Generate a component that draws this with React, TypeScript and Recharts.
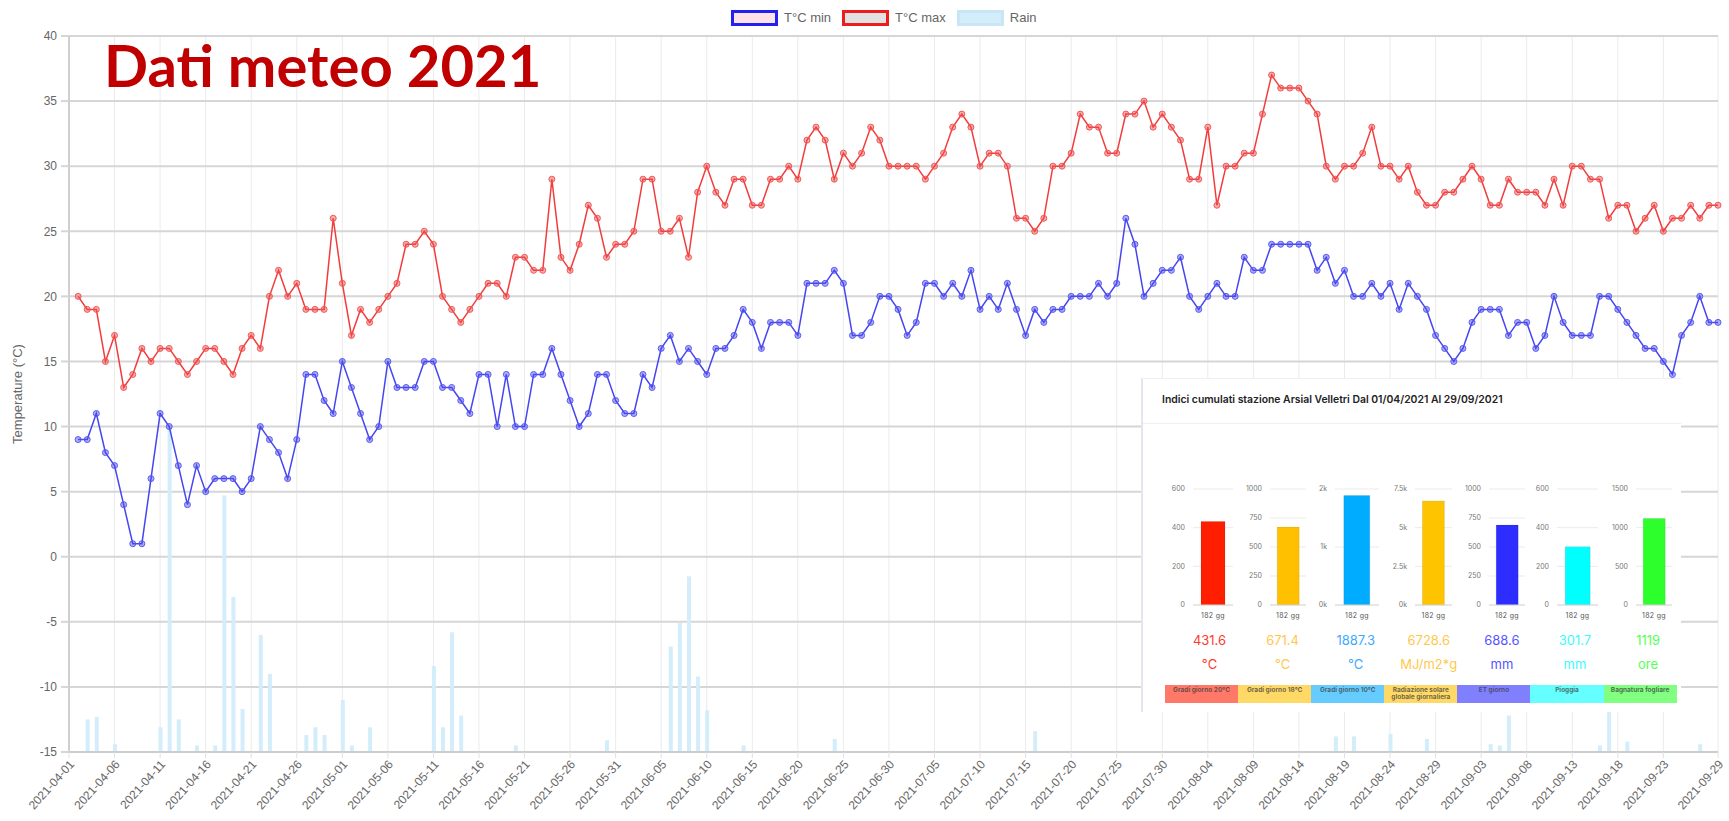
import { ComposedChart, BarChart, Bar, Line, XAxis, YAxis, CartesianGrid } from 'recharts'

// asse x: etichette ogni 5 giorni, ultima forzata al 29/09
const START = '2021-04-01'
const tickLabels = [
  '2021-04-01', '2021-04-06', '2021-04-11', '2021-04-16', '2021-04-21', '2021-04-26',
  '2021-05-01', '2021-05-06', '2021-05-11', '2021-05-16', '2021-05-21', '2021-05-26', '2021-05-31',
  '2021-06-05', '2021-06-10', '2021-06-15', '2021-06-20', '2021-06-25', '2021-06-30',
  '2021-07-05', '2021-07-10', '2021-07-15', '2021-07-20', '2021-07-25', '2021-07-30',
  '2021-08-04', '2021-08-09', '2021-08-14', '2021-08-19', '2021-08-24', '2021-08-29',
  '2021-09-03', '2021-09-08', '2021-09-13', '2021-09-18', '2021-09-23', '2021-09-29',
]
const tempTicks = [-15, -10, -5, 0, 5, 10, 15, 20, 25, 30, 35, 40]

// valori giornalieri dal 02/04 al 29/09
const tmax = [
  20, 19, 19, 15, 17, 13, 14, 16, 15, 16,
  16, 15, 14, 15, 16, 16, 15, 14, 16, 17,
  16, 20, 22, 20, 21, 19, 19, 19, 26, 21,
  17, 19, 18, 19, 20, 21, 24, 24, 25, 24,
  20, 19, 18, 19, 20, 21, 21, 20, 23, 23,
  22, 22, 29, 23, 22, 24, 27, 26, 23, 24,
  24, 25, 29, 29, 25, 25, 26, 23, 28, 30,
  28, 27, 29, 29, 27, 27, 29, 29, 30, 29,
  32, 33, 32, 29, 31, 30, 31, 33, 32, 30,
  30, 30, 30, 29, 30, 31, 33, 34, 33, 30,
  31, 31, 30, 26, 26, 25, 26, 30, 30, 31,
  34, 33, 33, 31, 31, 34, 34, 35, 33, 34,
  33, 32, 29, 29, 33, 27, 30, 30, 31, 31,
  34, 37, 36, 36, 36, 35, 34, 30, 29, 30,
  30, 31, 33, 30, 30, 29, 30, 28, 27, 27,
  28, 28, 29, 30, 29, 27, 27, 29, 28, 28,
  28, 27, 29, 27, 30, 30, 29, 29, 26, 27,
  27, 25, 26, 27, 25, 26, 26, 27, 26, 27, 27,
]
const tmin = [
  9, 9, 11, 8, 7, 4, 1, 1, 6, 11,
  10, 7, 4, 7, 5, 6, 6, 6, 5, 6,
  10, 9, 8, 6, 9, 14, 14, 12, 11, 15,
  13, 11, 9, 10, 15, 13, 13, 13, 15, 15,
  13, 13, 12, 11, 14, 14, 10, 14, 10, 10,
  14, 14, 16, 14, 12, 10, 11, 14, 14, 12,
  11, 11, 14, 13, 16, 17, 15, 16, 15, 14,
  16, 16, 17, 19, 18, 16, 18, 18, 18, 17,
  21, 21, 21, 22, 21, 17, 17, 18, 20, 20,
  19, 17, 18, 21, 21, 20, 21, 20, 22, 19,
  20, 19, 21, 19, 17, 19, 18, 19, 19, 20,
  20, 20, 21, 20, 21, 26, 24, 20, 21, 22,
  22, 23, 20, 19, 20, 21, 20, 20, 23, 22,
  22, 24, 24, 24, 24, 24, 22, 23, 21, 22,
  20, 20, 21, 20, 21, 19, 21, 20, 19, 17,
  16, 15, 16, 18, 19, 19, 19, 17, 18, 18,
  16, 17, 20, 18, 17, 17, 17, 20, 20, 19,
  18, 17, 16, 16, 15, 14, 17, 18, 20, 18, 18,
]
const rain = [
  0, 2.5, 2.7, 0, 0.6, 0, 0, 0, 0, 1.9,
  25, 2.5, 0, 0.5, 0, 0.5, 19.7, 11.9, 3.3, 0,
  9, 6, 0, 0, 0, 1.3, 1.9, 1.3, 0, 4,
  0.5, 0, 1.9, 0, 0, 0, 0, 0, 0, 6.6,
  1.9, 9.2, 2.8, 0, 0, 0, 0, 0, 0.5, 0,
  0, 0, 0, 0, 0, 0, 0, 0, 0.9, 0,
  0, 0, 0, 0, 0, 8.1, 9.9, 13.5, 5.8, 3.2,
  0, 0, 0, 0.5, 0, 0, 0, 0, 0, 0,
  0, 0, 0, 1, 0, 0, 0, 0, 0, 0,
  0, 0, 0, 0, 0, 0, 0, 0, 0, 0,
  0, 0, 0, 0, 0, 1.6, 0, 0, 0, 0,
  0, 0, 0, 0, 0, 0, 0, 0, 0, 0,
  0, 0, 0, 0, 0, 0, 0, 0, 0, 0,
  0, 0, 0, 0, 0, 0, 0, 0, 1.2, 0,
  1.2, 0, 0, 0, 1.4, 0, 0, 0, 1, 0,
  0, 0, 0, 0, 0, 0.6, 0.5, 2.8, 0, 0,
  0, 0, 0, 0, 0, 0, 0, 0.5, 5, 0,
  0.8, 0, 0, 0, 0, 0, 0, 0, 0.6, 0, 0,
]

// indici cumulati (riquadro)
const statNames = ['Gradi giorno 20°C', 'Gradi giorno 18°C', 'Gradi giorno 10°C', 'Radiazione solare globale giornaliera', 'ET giorno', 'Pioggia', 'Bagnatura fogliare']
const statValues = [431.6, 671.4, 1887.3, 6728.6, 688.6, 301.7, 1119]
const statUnits = ['°C', '°C', '°C', 'MJ/m2*g', 'mm', 'mm', 'ore']
const statMax = [600, 1000, 2000, 7500, 1000, 600, 1500]
const statTicks = [
  [0, 200, 400, 600],
  [0, 250, 500, 750, 1000],
  [0, 1000, 2000],
  [0, 2500, 5000, 7500],
  [0, 250, 500, 750, 1000],
  [0, 200, 400, 600],
  [0, 500, 1000, 1500],
]
const statPeriod = '182 gg'

const barColors = ['#ff1e00', '#ffc000', '#00acff', '#ffc400', '#2d2dff', '#00ffff', '#2dff2d']
const textColors = ['#ff3a2a', '#ffc84d', '#3fa9ff', '#ffc84d', '#5555ff', '#3cfbff', '#55ff55']
const cellColors = ['#ff7868', '#ffd966', '#66ccff', '#ffd966', '#8080ff', '#66ffff', '#80ff80']
const axisWidths = [28, 32, 24, 31, 32, 27, 32]

const data = tmax.map((v, i) => ({ day: i + 1, tmax: v, tmin: tmin[i], rain: rain[i] }))
const dayOf = (s: string) => (Date.parse(s) - Date.parse(START)) / 86400000
const tickDays = tickLabels.map(dayOf)
const labelByDay: Record<number, string> = {}
tickLabels.forEach((s) => { labelByDay[dayOf(s)] = s })

const fmtK = (v: number) => (v === 0 ? '0k' : `${v / 1000}k`)

function DateTick(props: any) {
  const { x, y, payload } = props
  return (
    <text
      x={x + 3}
      y={y + 2}
      transform={`rotate(-48 ${x + 3} ${y + 2})`}
      textAnchor="end"
      dominantBaseline="central"
      fill="#666"
      fontSize={12}
      fontFamily='"Liberation Sans", Arial, sans-serif'
    >
      {labelByDay[payload.value]}
    </text>
  )
}

function PeriodTick(props: any) {
  const { x, y, payload } = props
  return (
    <text x={x} y={y + 5} textAnchor="middle" fontSize={7} fill="#555" letterSpacing={0.3}>
      {payload.value}
    </text>
  )
}

function MiniChart({ k }: { k: number }) {
  const isK = k === 2 || k === 3
  return (
    <BarChart
      width={73}
      height={144}
      data={[{ name: statPeriod, v: statValues[k] }]}
      margin={{ top: 8, right: 5, bottom: 0, left: 0 }}
      barCategoryGap="20%"
    >
      <CartesianGrid vertical={false} stroke="#ebebeb" />
      <XAxis
        dataKey="name"
        height={20}
        tickLine={false}
        axisLine={{ stroke: '#d9d9d9' }}
        tick={<PeriodTick />}
      />
      <YAxis
        width={axisWidths[k]}
        domain={[0, statMax[k]]}
        ticks={statTicks[k]}
        interval={0}
        tickFormatter={isK ? fmtK : undefined}
        tickLine={false}
        axisLine={false}
        tick={{ fontSize: 7, fill: '#777' }}
      />
      <Bar dataKey="v" fill={barColors[k]} stroke="rgba(0,0,0,0.08)" isAnimationActive={false} />
    </BarChart>
  )
}

const legendItems = [
  { label: 'T°C min', fill: '#fde2ea', border: '#2222ee' },
  { label: 'T°C max', fill: '#e2e2e2', border: '#ee1c1c' },
  { label: 'Rain', fill: '#d3edfb', border: '#c9e6f6' },
]

export default function App() {
  return (
    <div style={{ position: 'absolute', left: 0, top: 0, width: 1729, height: 821, background: '#fff', overflow: 'hidden', fontFamily: '"Liberation Sans", Arial, sans-serif' }}>
      <ComposedChart width={1729} height={821} data={data} margin={{ top: 36, right: 11, bottom: 0, left: 9 }}>
        <CartesianGrid horizontal={false} stroke="#ebebeb" />
        <CartesianGrid vertical={false} stroke="#d6d6d6" strokeWidth={2} />
        <XAxis
          dataKey="day"
          type="number"
          domain={[0, 181]}
          ticks={tickDays}
          interval={0}
          height={69}
          tick={<DateTick />}
          tickLine={{ stroke: '#e0e0e0' }}
          tickSize={6}
          axisLine={{ stroke: '#cccccc', strokeWidth: 2 }}
        />
        <YAxis
          domain={[-15, 40]}
          ticks={tempTicks}
          interval={0}
          width={60}
          tick={{ fontSize: 12, fill: '#666' }}
          tickLine={{ stroke: '#d6d6d6', strokeWidth: 2 }}
          tickSize={8}
          tickMargin={4}
          axisLine={{ stroke: '#cfcfcf', strokeWidth: 2 }}
        />
        <YAxis yAxisId="rain" hide domain={[0, 55]} />
        <Bar yAxisId="rain" dataKey="rain" fill="#d3edfb" barSize={4} isAnimationActive={false} />
        <Line
          type="linear"
          dataKey="tmax"
          stroke="#f23c3c"
          strokeWidth={1.5}
          dot={{ r: 3, fill: 'rgba(242,70,70,0.45)', stroke: '#f05858', strokeWidth: 1 }}
          activeDot={false}
          isAnimationActive={false}
        />
        <Line
          type="linear"
          dataKey="tmin"
          stroke="#4545f2"
          strokeWidth={1.5}
          dot={{ r: 3, fill: 'rgba(70,70,242,0.45)', stroke: '#5a5af0', strokeWidth: 1 }}
          activeDot={false}
          isAnimationActive={false}
        />
      </ComposedChart>

      {/* legenda */}
      <div style={{ position: 'absolute', left: 731, top: 10, display: 'flex', alignItems: 'center', fontSize: 13, color: '#666', lineHeight: '16px' }}>
        {legendItems.map((it) => (
          <div key={it.label} style={{ display: 'flex', alignItems: 'center', marginRight: 11 }}>
            <div style={{ width: 47, height: 16, boxSizing: 'border-box', border: `3px solid ${it.border}`, background: it.fill, marginRight: 6 }} />
            <span>{it.label}</span>
          </div>
        ))}
      </div>

      {/* titolo */}
      <div style={{ position: 'absolute', left: 104, top: 36, fontFamily: 'Lato, "Open Sans", sans-serif', fontWeight: 700, fontSize: 58, lineHeight: '58px', color: '#c00000', whiteSpace: 'nowrap' }}>
        Dati meteo 2021
      </div>

      {/* titolo asse y */}
      <div style={{ position: 'absolute', left: 18 - 100, top: 394 - 8, width: 200, textAlign: 'center', transform: 'rotate(-90deg)', fontSize: 13, lineHeight: '16px', color: '#666' }}>
        Temperature (°C)
      </div>

      {/* riquadro indici cumulati */}
      <div style={{ position: 'absolute', left: 1141, top: 378, width: 540, height: 334, background: '#fff', borderLeft: '2px solid #e3e6f0', borderTop: '1px solid #eceef4', boxSizing: 'border-box', fontFamily: 'Inter, "Noto Sans", sans-serif' }}>
        <div style={{ position: 'absolute', left: 19, top: 14, fontSize: 10.4, fontWeight: 600, color: '#222', whiteSpace: 'nowrap', lineHeight: '14px' }}>
          Indici cumulati stazione Arsial Velletri Dal 01/04/2021 Al 29/09/2021
        </div>
        <div style={{ position: 'absolute', left: 0, right: 0, top: 44, height: 1, background: '#f0f0f3' }} />
        <div style={{ position: 'absolute', left: 22, top: 102, display: 'flex' }}>
          {statValues.map((_, k) => (
            <div key={k} style={{ width: 73.1 }}>
              <MiniChart k={k} />
            </div>
          ))}
        </div>
        {statValues.map((v, k) => (
          <div key={'v' + k} style={{ position: 'absolute', left: 30 + 73.1 * k, top: 252, width: 73, textAlign: 'center', fontSize: 13, lineHeight: '18px', color: textColors[k] }}>
            {String(v)}
          </div>
        ))}
        {statUnits.map((u, k) => (
          <div key={'u' + k} style={{ position: 'absolute', left: 30 + 73.1 * k, top: 276, width: 73, textAlign: 'center', fontSize: 13, lineHeight: '18px', color: textColors[k] }}>
            {u}
          </div>
        ))}
        <div style={{ position: 'absolute', left: 22, top: 306, display: 'flex', height: 18 }}>
          {statNames.map((n, k) => (
            <div key={n} style={{ width: 73.1, height: 18, background: cellColors[k], fontSize: 6.5, fontWeight: 700, lineHeight: '6.5px', color: 'rgba(60,60,60,0.75)', textAlign: 'center', paddingTop: 2, boxSizing: 'border-box', overflow: 'hidden', whiteSpace: k === 3 ? 'normal' : 'nowrap' }}>
              {n}
            </div>
          ))}
        </div>
      </div>
    </div>
  )
}
